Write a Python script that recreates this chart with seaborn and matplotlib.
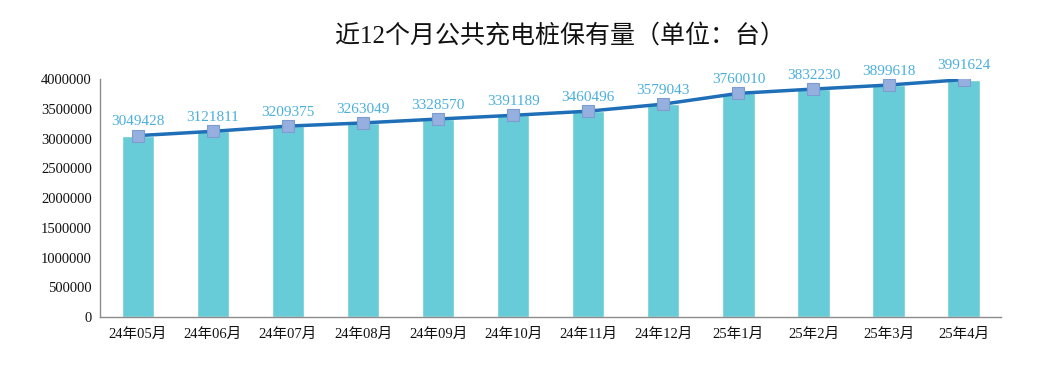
import pandas as pd
import matplotlib
matplotlib.use("Agg")
import matplotlib.pyplot as plt
import seaborn as sns

months = ["24年05月", "24年06月", "24年07月", "24年08月", "24年09月", "24年10月",
          "24年11月", "24年12月", "25年1月", "25年2月", "25年3月", "25年4月"]
piles = [3049428, 3121811, 3209375, 3263049, 3328570, 3391189,
         3460496, 3579043, 3760010, 3832230, 3899618, 3991624]
yticks = [0, 500000, 1000000, 1500000, 2000000, 2500000, 3000000, 3500000, 4000000]

df = pd.DataFrame({"month": months, "piles": piles})

sns.set_style("white")
plt.rcParams["font.family"] = ["Liberation Serif", "Noto Sans CJK SC", "DejaVu Sans"]

fig, ax = plt.subplots(figsize=(10.45, 3.82), dpi=100)
fig.subplots_adjust(left=0.096, right=0.958, top=0.793, bottom=0.17)

sns.barplot(data=df, x="month", y="piles", color="#68CCD8", width=0.43,
            saturation=1, ax=ax)
sns.lineplot(x=list(range(len(months))), y=piles, ax=ax, color="#1F6FB8",
             linewidth=2.5, marker="s", markersize=9,
             markerfacecolor="#95B0DE", markeredgecolor="#7E9CCF",
             markeredgewidth=0.8)

for i, v in enumerate(piles):
    ax.text(i, v + 120000, str(v), ha="center", va="bottom",
            fontsize=11, color="#4BAFDD")

ax.set_ylim(0, 4000000)
ax.set_xlim(-0.5, len(months) - 0.5)
ax.set_yticks(yticks)
ax.set_yticklabels([str(t) for t in yticks], fontsize=10.5)
ax.tick_params(axis="x", labelsize=10.5, pad=8, length=0, labelcolor="#111111")
ax.tick_params(axis="y", length=0, pad=6, labelcolor="#111111")
ax.set_xlabel("")
ax.set_ylabel("")

sns.despine(ax=ax)
for s in ["left", "bottom"]:
    ax.spines[s].set_color("#8C8C8C")
    ax.spines[s].set_linewidth(1)

fig.text(0.536, 0.905, "近12个月公共充电桩保有量（单位：台）", fontsize=18,
         ha="center", va="center", color="#111111")

fig.savefig("out.png", dpi=100)
